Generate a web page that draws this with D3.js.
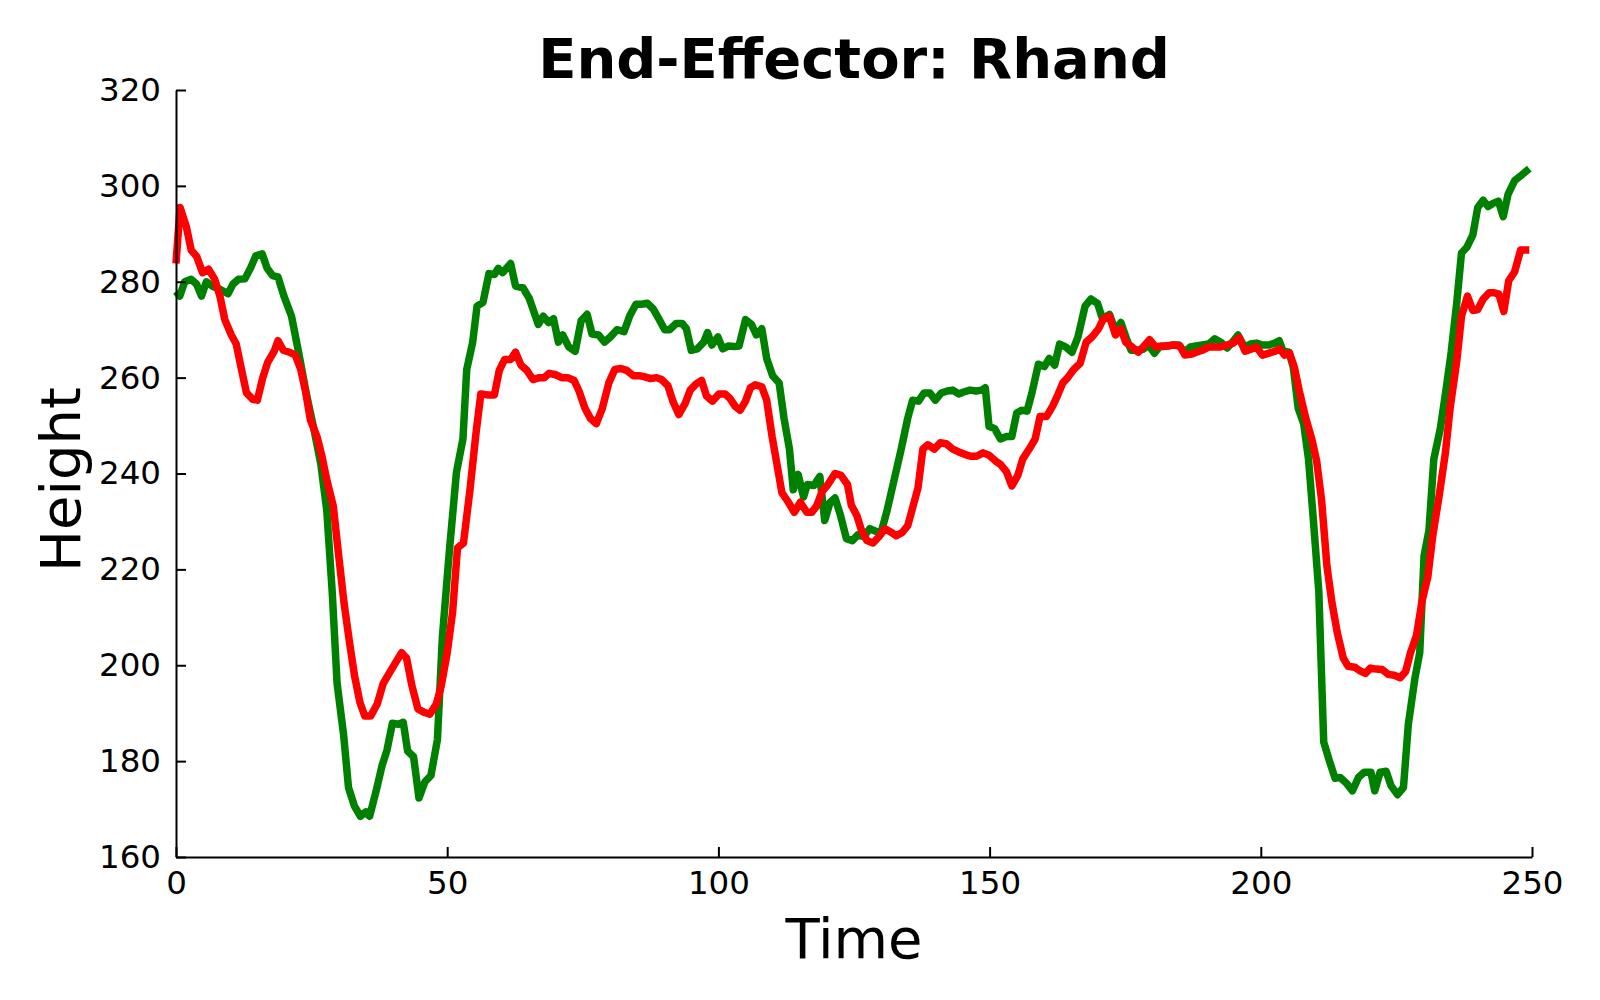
<!DOCTYPE html>
<html>
<head>
<meta charset="utf-8">
<script src="https://cdn.jsdelivr.net/npm/d3@7"></script>
<style>
  body { margin: 0; background: #fff; }
  text { font-family: "DejaVu Sans", sans-serif; fill: #000; }
</style>
</head>
<body>
<svg id="chart" width="1600" height="1000"></svg>
<script>

// Daten
let greenTime = [0, 0.7, 1.6, 2.8, 3.8, 4.7, 5.6, 6.8, 8, 9.6, 10.5, 11.5, 12.7, 13.8, 14.7, 15.9, 16.8, 17.8, 18.8, 19.9,
  21.3, 22.6, 24, 25.4, 26.7, 27.8, 28.8, 29.7, 30.9, 31.8, 32.9, 34, 35, 35.7, 36.9, 38, 38.9, 39.9, 41, 41.9,
  42.7, 43.8, 44.8, 45.9, 47, 48.2, 49.1, 50.4, 51.7, 52.9, 53.6, 54.7, 55.5, 56.6, 57.7, 58.7, 59.4, 60.2, 61.7, 62.6,
  64, 65.1, 66.8, 67.7, 68.7, 69.6, 70.5, 71.3, 72.4, 73.6, 74.7, 75.8, 76.7, 77.9, 79, 80.1, 81.3, 82.6, 83.7, 84.8,
  85.8, 86.9, 88, 89, 90.1, 91, 92.2, 93.3, 94.1, 95, 96.1, 97.3, 98, 98.8, 99.9, 100.8, 101.8, 102.9, 103.8, 105,
  106.1, 107, 108, 108.9, 110, 111.2, 112.1, 113.1, 113.8, 114.7, 115.7, 116.4, 117.6, 118.7, 119.6, 120.6, 121.5, 122.5, 123.6, 124.7,
  125.7, 126.8, 127.9, 128.9, 130, 131.1, 132.4, 133.7, 134.9, 135.8, 136.9, 137.9, 139, 140, 141.1, 142.2, 143.2, 144.3, 145.2, 146.4,
  147.5, 148.6, 149.2, 149.9, 150.9, 152, 153.1, 154.1, 155, 155.9, 156.9, 157.8, 159, 160.1, 161, 162, 162.9, 164, 165.2, 166.3,
  167.6, 168.7, 169.9, 170.8, 172.1, 173.2, 174.2, 175.3, 176.1, 177.2, 178.3, 179.3, 180.4, 181.3, 182.5, 183.8, 184.9, 185.9, 187, 188.1,
  189.2, 190.4, 191.5, 192.6, 193.8, 194.9, 195.8, 197, 198.1, 199.2, 200.3, 201.5, 202.6, 203.4, 204.1, 205.2, 206, 206.9, 207.9, 208.8,
  209.7, 210.7, 211.6, 212.6, 213.7, 214.6, 215.7, 216.9, 218, 219.1, 220.3, 221, 222, 223.1, 224, 225.2, 226.3, 227.2, 228.4, 229.3,
  230.1, 231, 231.9, 233.1, 234.2, 235.1, 236.1, 237, 238, 239.1, 240, 241, 241.9, 242.9, 243.8, 244.7, 245.6, 246.8, 247.9, 249.5];
let greenHeight = [278, 277, 280, 280.5, 279.5, 277, 280, 279, 278.5, 277.5, 279.5, 280.5, 280.6, 283, 285.4, 285.8, 282.8, 281.3, 281, 277,
  272.8, 265.3, 256.8, 249.4, 242, 232.3, 215.3, 196.2, 185.5, 174.5, 170.6, 168.5, 169.4, 168.5, 173.8, 179.1, 182.3, 187.9, 187.7, 188.1,
  182.1, 180.9, 172.3, 175.7, 177, 184.5, 205.7, 223.8, 240.2, 247.2, 261.7, 267.4, 274.9, 275.7, 281.7, 281.5, 282.8, 281.9, 283.8, 279.1,
  278.7, 276.6, 271.1, 272.8, 271.5, 272.3, 267.4, 268.9, 266.4, 265.5, 271.9, 273.2, 269.1, 268.9, 267.4, 268.5, 270, 269.6, 273, 275.3,
  275.3, 275.5, 274.3, 272.3, 270, 270, 271.3, 271.3, 270.2, 265.7, 266, 267.4, 269.4, 266.8, 268.5, 266, 266.6, 266.5, 266.6, 272.1,
  271.1, 268.9, 270.2, 264, 260.4, 258.9, 251.5, 245.1, 236.6, 239.8, 235.1, 237.7, 237.5, 239.4, 230.2, 234, 234.9, 231.3, 226.4, 226,
  227.2, 226.8, 228.5, 228, 227.7, 232.3, 238.7, 245.1, 251.5, 255.3, 255.1, 256.8, 256.8, 255.3, 256.8, 257.2, 257.4, 256.6, 257, 257.4,
  257.2, 257.4, 257.9, 249.8, 249.4, 247.2, 247.7, 247.7, 252.6, 253.2, 253, 256.8, 262.8, 262.3, 264, 262.6, 267, 266.4, 265.3, 268.5,
  274.9, 276.4, 275.5, 272.3, 273.2, 269.8, 271.5, 267.9, 265.7, 265.7, 265.9, 266.8, 265.1, 266.4, 266.6, 266.8, 266.8, 265.3, 266.4, 266.6,
  266.8, 267, 268.1, 267.4, 266.2, 267.6, 268.9, 266.4, 267, 267.2, 266.8, 266.8, 267.2, 267.7, 265.5, 265.3, 262.1, 253.6, 250.4, 243,
  230.2, 215.3, 184, 180.2, 176.4, 176.6, 175.5, 173.8, 176.6, 177.7, 177.7, 173.8, 177.7, 177.9, 174.9, 173, 174.5, 187.7, 197.2, 202.6,
  222.8, 228.1, 243, 249.4, 257.9, 265.3, 275.3, 286, 287.2, 289.8, 295.5, 297, 295.7, 296.4, 296.8, 293.6, 298.3, 301.1, 302.1, 303.6];

let redTime = [0, 0.75, 1.9, 2.8, 3.8, 4.9, 6, 7.1, 8.1, 9, 10.2, 11.1, 12, 13, 14.1, 15, 16, 16.9, 18.1, 18.8,
  19.8, 20.9, 22, 23, 23.9, 24.8, 26, 26.9, 27.8, 29, 29.9, 31, 32, 32.9, 33.9, 34.8, 35.9, 37.1, 38.2, 39.3,
  40.4, 41.6, 42.5, 43.5, 44.6, 45.7, 46.8, 48, 48.9, 50, 51, 51.9, 53, 54.2, 55.3, 56.2, 57.4, 58.7, 59.6, 60.6,
  61.7, 62.6, 63.6, 64.7, 65.8, 67, 67.9, 68.8, 70, 71.1, 72.2, 73.4, 74.3, 75.4, 76.4, 77.5, 78.6, 79.8, 80.9, 82,
  83.1, 84.3, 85.4, 86.3, 87.5, 88.6, 89.5, 90.7, 91.6, 92.7, 93.9, 94.8, 95.9, 96.9, 97.8, 98.9, 100.1, 101.2, 102.1, 103.1,
  104, 105, 105.9, 106.8, 108, 108.9, 109.9, 110.8, 111.7, 112.9, 114, 115.1, 116.3, 117.2, 118.1, 119.1, 120.2, 121.5, 122.6, 123.8,
  124.5, 125.5, 126.4, 127.4, 128.5, 129.6, 130.7, 131.9, 132.8, 133.9, 134.9, 135.8, 136.8, 137.7, 138.6, 139.8, 140.9, 142, 143.2, 144.3,
  145.4, 146.5, 147.6, 148.8, 149.9, 151.1, 152, 153.1, 154.1, 155.2, 156.1, 157.3, 158.4, 159.3, 160.5, 161.6, 162.5, 163.5, 164.4, 165.5,
  166.7, 167.8, 168.9, 170.1, 171, 172.1, 173.2, 174.2, 175.1, 176.3, 177.4, 178.3, 179.5, 180.6, 181.7, 182.8, 184, 185.1, 186, 187.2,
  188.1, 189.2, 190.4, 191.5, 192.6, 193.8, 194.9, 196, 197.1, 198.3, 199.2, 200.3, 201.5, 202.6, 203.5, 204.4, 205.3, 206.2, 207.1, 208.3,
  209.4, 210.3, 211.2, 212.2, 213.1, 214.1, 215.2, 216.1, 217.3, 218.2, 219.3, 220.2, 221.3, 222.4, 223.5, 224.6, 225.7, 226.7, 227.6, 228.7,
  229.7, 230.8, 231.7, 232.9, 234, 234.9, 236.1, 237, 238.1, 239.1, 240, 241, 242.1, 243, 243.9, 244.8, 245.7, 246.8, 247.9, 249.5];
let redHeight = [283.8, 295.5, 291.5, 286.6, 285.3, 281.9, 282.6, 280.6, 277, 272.1, 268.9, 267, 262.1, 256.8, 255.5, 255.3, 260, 263.2, 265.5, 267.7,
  265.7, 265.3, 264.7, 261.7, 257, 251.1, 247.7, 243.6, 238.7, 233.2, 223.8, 212.8, 204.7, 197.9, 192.3, 189.4, 189.4, 191.9, 196.2, 198.3,
  200.4, 202.6, 201.5, 195.7, 190.9, 190.2, 189.8, 191.9, 195.7, 202.6, 211.1, 224.5, 225.5, 236.6, 248.3, 256.6, 256.4, 256.4, 261.5, 263.8,
  263.8, 265.3, 262.6, 261.5, 259.6, 260, 260, 260.9, 260.6, 260, 260, 259.4, 257.2, 253.6, 251.5, 250.4, 253.6, 258.9, 261.7, 261.9,
  261.5, 260.4, 260.4, 260.2, 259.8, 260, 259.6, 258.3, 255.1, 252.3, 254.7, 257.4, 258.7, 259.4, 256.2, 255.1, 256.6, 256.6, 255.7, 254,
  253.2, 255.1, 257.9, 258.5, 258.1, 255.3, 247.7, 241.9, 236, 234, 231.9, 234, 231.9, 231.9, 233.2, 236.2, 237.7, 240, 239.6, 237.7,
  233.4, 231.3, 228.1, 226, 225.5, 226.8, 228.5, 227.7, 227, 227.7, 229.1, 232.8, 237, 245.1, 246, 245.1, 246.4, 246.2, 245.1, 244.5,
  244, 243.6, 243.6, 244.3, 243.8, 242.6, 241.9, 240.4, 237.4, 239.6, 243, 245.1, 247.2, 251.9, 251.9, 254, 256.2, 258.9, 260, 261.7,
  263, 267.4, 268.5, 270.2, 272.3, 272.8, 268.9, 270.2, 267.4, 266.4, 265.3, 266.4, 267.9, 266.4, 266.6, 266.6, 266.8, 266.6, 264.7, 264.9,
  265.3, 265.7, 266.4, 266.4, 266.4, 266.8, 267.2, 268.3, 265.5, 266, 266.4, 264.7, 265.1, 265.5, 266, 264.7, 265.1, 262.1, 257.2, 251.5,
  247.2, 242.6, 234.5, 220.6, 213.2, 206.8, 201.5, 199.8, 199.6, 198.9, 198.3, 199.4, 199.2, 199.1, 198.1, 197.9, 197.4, 198.7, 202.6, 206.2,
  213.2, 218.5, 227, 235.5, 244, 253.6, 263.2, 272.8, 277, 274, 274.2, 276.4, 277.7, 277.7, 277.4, 273.8, 280.2, 282.1, 286.6, 286.6];

let xTicks = [0, 50, 100, 150, 200, 250];
let yTicks = [160, 180, 200, 220, 240, 260, 280, 300, 320];

let titleText = 'End-Effector: Rhand';
let xLabel = 'Time';
let yLabel = 'Height';

// Layout
let plotLeft = 176, plotRight = 1532, plotTop = 90, plotBottom = 857;

let svg = d3.select('#chart');

let x = d3.scaleLinear().domain([0, 250]).range([plotLeft, plotRight]);
let y = d3.scaleLinear().domain([160, 320]).range([plotBottom, plotTop]);

let line = d3.line()
  .x(function(d){ return x(d[0]) })
  .y(function(d){ return y(d[1]) });

let greenData = greenTime.map(function(t, i){ return [t, greenHeight[i]] });
let redData = redTime.map(function(t, i){ return [t, redHeight[i]] });

// Linien (rot liegt oben)
svg.append('path')
  .datum(greenData)
  .attr('d', line)
  .attr('fill', 'none')
  .attr('stroke', '#008000')
  .attr('stroke-width', 7.5)
  .attr('stroke-linejoin', 'round');

svg.append('path')
  .datum(redData)
  .attr('d', line)
  .attr('fill', 'none')
  .attr('stroke', '#ff0000')
  .attr('stroke-width', 7.5)
  .attr('stroke-linejoin', 'round');

// Achsen, Ticks nach innen
let xAxis = d3.axisBottom(x)
  .tickValues(xTicks)
  .tickSizeInner(-10)
  .tickSizeOuter(0)
  .tickPadding(14);

let yAxis = d3.axisLeft(y)
  .tickValues(yTicks)
  .tickSizeInner(-10)
  .tickSizeOuter(0)
  .tickPadding(15);

let gx = svg.append('g')
  .attr('transform', 'translate(0,' + plotBottom + ')')
  .call(xAxis);

let gy = svg.append('g')
  .attr('transform', 'translate(' + plotLeft + ',0)')
  .call(yAxis);

[gx, gy].forEach(function(g) {
  g.selectAll('path, line')
    .attr('stroke', '#000')
    .attr('stroke-width', 2);
  g.selectAll('text')
    .style('font-family', '"DejaVu Sans", sans-serif')
    .style('font-size', '32.5px')
    .attr('fill', '#000');
});

gx.selectAll('text').attr('dy', '0.71em');

// Titel und Beschriftungen
svg.append('text')
  .attr('x', (plotLeft + plotRight) / 2)
  .attr('y', 78)
  .attr('text-anchor', 'middle')
  .style('font-size', '56px')
  .style('font-weight', 'bold')
  .text(titleText);

svg.append('text')
  .attr('x', (plotLeft + plotRight) / 2)
  .attr('y', 958)
  .attr('text-anchor', 'middle')
  .style('font-size', '56px')
  .text(xLabel);

svg.append('text')
  .attr('transform', 'translate(80,' + ((plotTop + plotBottom) / 2 + 6) + ') rotate(-90)')
  .attr('text-anchor', 'middle')
  .style('font-size', '56px')
  .text(yLabel);

</script>
</body>
</html>
